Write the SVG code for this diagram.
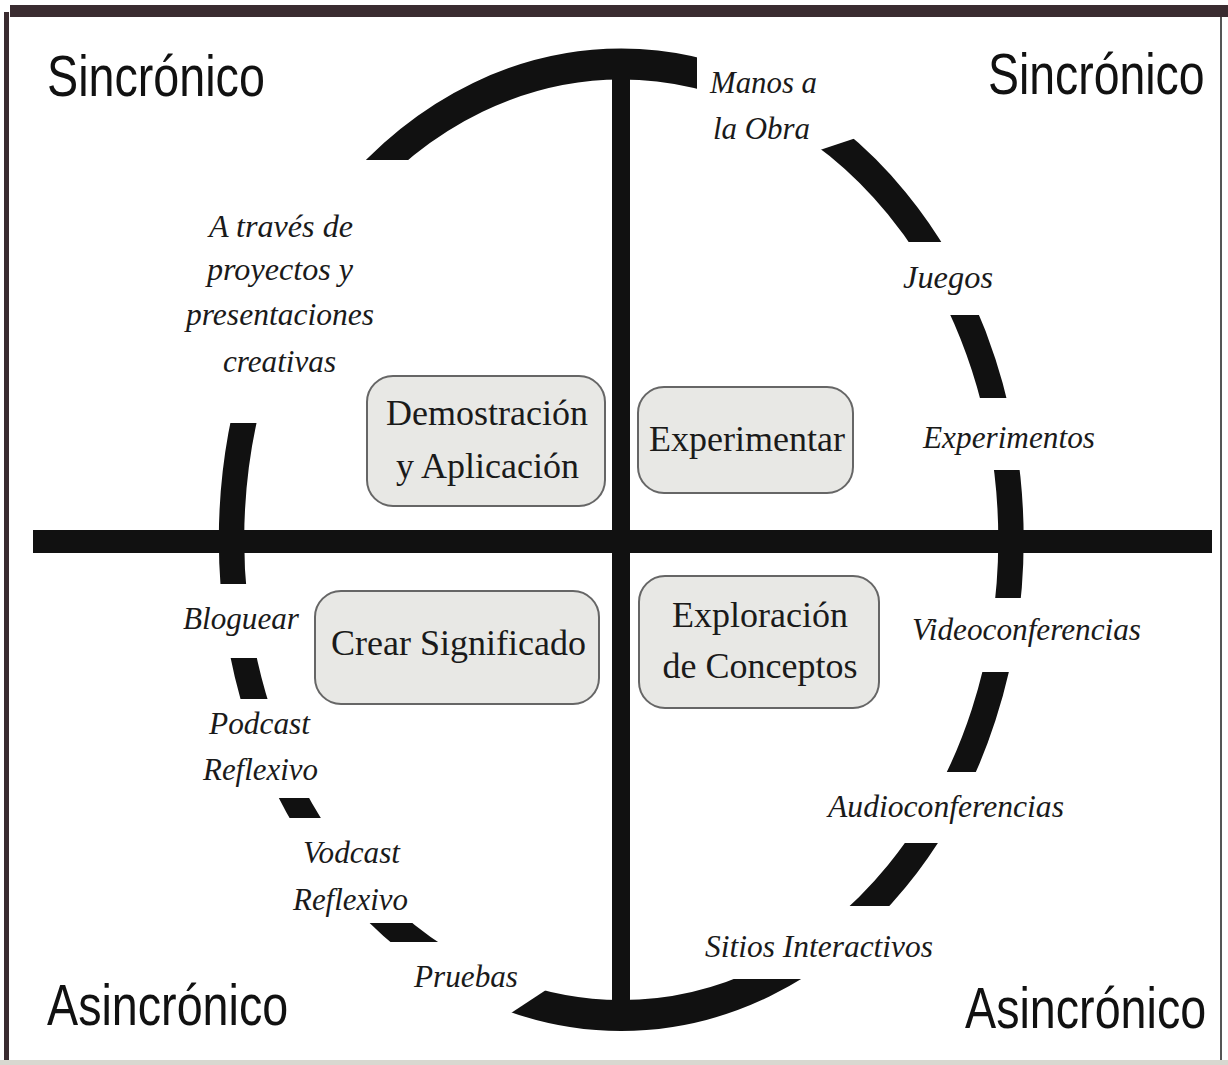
<svg xmlns="http://www.w3.org/2000/svg" width="1228" height="1065" viewBox="0 0 1228 1065">
  <style>
    .corner { font-family: "Liberation Sans", Arial, sans-serif; font-size: 58px; fill: #111; }
    .box rect { fill: #e8e8e5; stroke: #666; stroke-width: 2; }
    .box text { font-family: "Liberation Serif", "Times New Roman", serif; font-size: 36px; fill: #1a1a1a; text-anchor: middle; }
    .lbl { font-family: "Liberation Serif", "Times New Roman", serif; font-size: 31px; font-style: italic; fill: #1a1a1a; }
    .bar { fill: #111; }
  </style>
  <defs>
    <mask id="gaps" maskUnits="userSpaceOnUse" x="0" y="0" width="1228" height="1065">
      <rect x="0" y="0" width="1228" height="1065" fill="#fff"/>
      <g fill="#000">
        <rect x="150" y="160" width="330" height="263"/>
        <rect x="150" y="584" width="250" height="74"/>
        <rect x="150" y="699" width="270" height="99"/>
        <rect x="150" y="818" width="330" height="105"/>
        <polygon points="150,942 480,942 590,961 470,1040 150,1040"/>
        <rect x="700" y="906" width="400" height="73"/>
        <rect x="700" y="772" width="400" height="71"/>
        <rect x="800" y="598" width="300" height="74"/>
        <rect x="800" y="398" width="300" height="72"/>
        <rect x="800" y="242" width="300" height="73"/>
        <polygon points="697,10 950,10 950,106.7 760,170 697,170"/>
      </g>
    </mask>
  </defs>

  <rect x="0" y="0" width="1228" height="1065" fill="#fff"/>

  <g id="frame">
    <rect x="10" y="5" width="1218" height="12" fill="#3a2c30"/>
    <rect x="4" y="12" width="5" height="1050" fill="#3a2c30"/>
    <rect x="1220" y="17" width="2" height="1043" fill="#555"/>
    <rect x="0" y="1060" width="1228" height="5" fill="#d8d8d0"/>
  </g>

  <g id="connectors">
    <g mask="url(#gaps)">
      <circle cx="0" cy="0" r="475.75" fill="none" stroke="#111" stroke-width="31" transform="translate(621.25 539.75) scale(0.8192 1)"/>
    </g>
    <rect class="bar" x="612" y="64" width="18" height="951"/>
    <rect class="bar" x="33" y="530" width="1179" height="23"/>
  </g>

  <g id="corner-labels">
    <text class="corner" transform="translate(47 96) scale(0.805 1)">Sincrónico</text>
    <text class="corner" transform="translate(988 94) scale(0.8 1)">Sincrónico</text>
    <text class="corner" transform="translate(47 1025) scale(0.805 1)">Asincrónico</text>
    <text class="corner" transform="translate(965 1028) scale(0.805 1)">Asincrónico</text>
  </g>

  <g id="node-demostracion" class="box">
    <rect x="367" y="376" width="238" height="130" rx="26"/>
    <text x="487" y="425">Demostración</text>
    <text x="487.5" y="478">y Aplicación</text>
  </g>
  <g id="node-experimentar" class="box">
    <rect x="638" y="387" width="215" height="106" rx="26"/>
    <text x="747" y="451">Experimentar</text>
  </g>
  <g id="node-crear" class="box">
    <rect x="315" y="591" width="284" height="113" rx="26"/>
    <text x="458.5" y="655">Crear Significado</text>
  </g>
  <g id="node-exploracion" class="box">
    <rect x="639" y="576" width="240" height="132" rx="26"/>
    <text x="760" y="627">Exploración</text>
    <text x="760" y="678">de Conceptos</text>
  </g>

  <g id="label-manos">
    <text class="lbl" x="710" y="93" textLength="107" lengthAdjust="spacingAndGlyphs">Manos a</text>
    <text class="lbl" x="713" y="139" textLength="97" lengthAdjust="spacingAndGlyphs">la Obra</text>
  </g>
  <g id="label-juegos">
    <text class="lbl" x="903" y="288" textLength="90" lengthAdjust="spacingAndGlyphs">Juegos</text>
  </g>
  <g id="label-experimentos">
    <text class="lbl" x="923" y="448" textLength="172" lengthAdjust="spacingAndGlyphs">Experimentos</text>
  </g>
  <g id="label-videoconferencias">
    <text class="lbl" x="912" y="640" textLength="229" lengthAdjust="spacingAndGlyphs">Videoconferencias</text>
  </g>
  <g id="label-audioconferencias">
    <text class="lbl" x="828" y="817" textLength="236" lengthAdjust="spacingAndGlyphs">Audioconferencias</text>
  </g>
  <g id="label-sitios">
    <text class="lbl" x="705" y="957" textLength="228" lengthAdjust="spacingAndGlyphs">Sitios Interactivos</text>
  </g>
  <g id="label-bloguear">
    <text class="lbl" x="183" y="629" textLength="116" lengthAdjust="spacingAndGlyphs">Bloguear</text>
  </g>
  <g id="label-podcast">
    <text class="lbl" x="209" y="734" textLength="101" lengthAdjust="spacingAndGlyphs">Podcast</text>
    <text class="lbl" x="203" y="780" textLength="115" lengthAdjust="spacingAndGlyphs">Reflexivo</text>
  </g>
  <g id="label-vodcast">
    <text class="lbl" x="303" y="863" textLength="97" lengthAdjust="spacingAndGlyphs">Vodcast</text>
    <text class="lbl" x="293" y="910" textLength="115" lengthAdjust="spacingAndGlyphs">Reflexivo</text>
  </g>
  <g id="label-pruebas">
    <text class="lbl" x="414" y="987" textLength="104" lengthAdjust="spacingAndGlyphs">Pruebas</text>
  </g>
  <g id="label-proyectos">
    <text class="lbl" x="209" y="237" textLength="144" lengthAdjust="spacingAndGlyphs">A través de</text>
    <text class="lbl" x="207" y="280" textLength="146" lengthAdjust="spacingAndGlyphs">proyectos y</text>
    <text class="lbl" x="186" y="325" textLength="188" lengthAdjust="spacingAndGlyphs">presentaciones</text>
    <text class="lbl" x="223" y="372" textLength="113" lengthAdjust="spacingAndGlyphs">creativas</text>
  </g>
</svg>
